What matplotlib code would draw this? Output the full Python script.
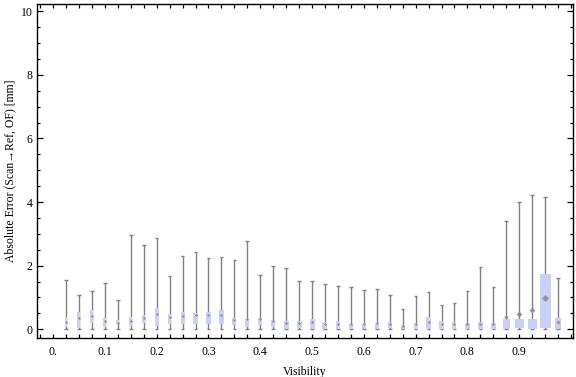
import matplotlib
matplotlib.use("Agg")
import matplotlib.pyplot as plt
import numpy as np
from matplotlib.ticker import MultipleLocator, FixedLocator

# ---- data ----
visibility = [0.025, 0.05, 0.075, 0.1, 0.125, 0.15, 0.175, 0.2, 0.225, 0.25,
              0.275, 0.3, 0.325, 0.35, 0.375, 0.4, 0.425, 0.45, 0.475, 0.5,
              0.525, 0.55, 0.575, 0.6, 0.625, 0.65, 0.675, 0.7, 0.725, 0.75,
              0.775, 0.8, 0.825, 0.85, 0.875, 0.9, 0.925, 0.95, 0.975]
whisker_low = [0.0] * 39
whisker_high = [1.56, 1.07, 1.21, 1.45, 0.92, 2.95, 2.66, 2.87, 1.67, 2.30,
                2.44, 2.24, 2.27, 2.19, 2.79, 1.70, 1.99, 1.93, 1.52, 1.52,
                1.42, 1.36, 1.33, 1.24, 1.27, 1.08, 0.63, 1.05, 1.17, 0.76,
                0.82, 1.20, 1.97, 1.33, 3.39, 4.00, 4.22, 4.16, 1.61]
q1 = [0.08, 0.05, 0.19, 0.08, 0.15, 0.11, 0.19, 0.11, 0.18, 0.18,
      0.18, 0.18, 0.15, 0.12, 0.08, 0.12, 0.08, 0.02, 0.05, 0.02,
      0.02, 0.02, 0.02, 0.02, 0.02, 0.05, 0.01, 0.01, 0.01, 0.01,
      0.01, 0.01, 0.01, 0.01, 0.01, 0.05, 0.01, 0.05, 0.01]
q3 = [0.40, 0.55, 0.61, 0.36, 0.29, 0.40, 0.46, 0.68, 0.48, 0.55,
      0.52, 0.55, 0.61, 0.36, 0.33, 0.36, 0.29, 0.26, 0.26, 0.33,
      0.23, 0.26, 0.17, 0.19, 0.20, 0.23, 0.14, 0.21, 0.37, 0.26,
      0.23, 0.21, 0.23, 0.21, 0.33, 0.33, 0.33, 1.75, 0.36]
means = [0.24, 0.35, 0.42, 0.27, 0.21, 0.25, 0.35, 0.48, 0.38, 0.42,
         0.44, 0.44, 0.45, 0.29, 0.32, 0.32, 0.25, 0.21, 0.20, 0.22,
         0.16, 0.18, 0.15, 0.17, 0.20, 0.18, 0.10, 0.18, 0.23, 0.18,
         0.16, 0.15, 0.16, 0.18, 0.37, 0.49, 0.60, 0.98, 0.24]
# box widths (pixels) as seen in the chart
box_width_px = [2.7, 3, 3, 3, 3, 3, 3.3, 3.7, 3.7, 4,
                4.3, 4.7, 5, 4.3, 4.3, 4.3, 4.3, 5, 5, 5,
                5, 4.3, 3.3, 4, 4, 4.3, 3.7, 3.7, 4.3, 4.3,
                4, 5, 5, 5, 7, 9, 9, 11, 6]

x_major = [0, 0.1, 0.2, 0.3, 0.4, 0.5, 0.6, 0.7, 0.8, 0.9]
x_labels = ["0.", "0.1", "0.2", "0.3", "0.4", "0.5", "0.6", "0.7", "0.8", "0.9"]
y_major = [0, 2, 4, 6, 8, 10]

W, H, DPI = 576, 377, 100
fig = plt.figure(figsize=(W / DPI, H / DPI), dpi=DPI)
plt.rcParams['font.family'] = ['Liberation Serif', 'DejaVu Serif']
L, R, B, T = 36.5, 572.7, 337.5, 4.0
ax = fig.add_axes([L / W, 1 - B / H, (R - L) / W, (B - T) / H])
xmin, xmax = -0.032, 1.0033
ymin, ymax = -0.26, 10.23
ax.set_xlim(xmin, xmax)
ax.set_ylim(ymin, ymax)

px_per_x = (R - L) / (xmax - xmin)
vis = np.array(visibility)
widths = np.array(box_width_px) / px_per_x
cap = 1.8 / px_per_x

grey = '#808080'
boxc = '#c9d0f5'
ax.vlines(vis, whisker_low, whisker_high, color=grey, lw=1.0, zorder=2)
ax.hlines(whisker_high, vis - cap, vis + cap, color=grey, lw=1.0, zorder=2)
ax.hlines(whisker_low, vis - cap, vis + cap, color=grey, lw=1.0, zorder=2)
ax.bar(vis, np.array(q3) - np.array(q1), bottom=q1, width=widths,
       color=boxc, edgecolor='none', zorder=3)
for xv, m, wp in zip(vis, means, box_width_px):
    ms = max(2.2, 0.45 * wp) * 72 / DPI
    ax.plot([xv], [m], marker='D', ms=ms, color='#8c8c8c', mec='none',
            zorder=4, alpha=0.9)

for s in ax.spines.values():
    s.set_linewidth(1.0)
ax.xaxis.set_major_locator(FixedLocator(x_major))
ax.set_xticklabels(x_labels)
ax.xaxis.set_minor_locator(MultipleLocator(0.025))
ax.yaxis.set_major_locator(FixedLocator(y_major))
ax.yaxis.set_minor_locator(MultipleLocator(0.5))
ax.tick_params(which='both', direction='in', top=True, right=True,
               labelsize=8.5, width=0.9, colors='black')
ax.tick_params(axis='x', which='major', length=3.2, pad=6)
ax.tick_params(axis='x', which='minor', length=3.2)
ax.tick_params(axis='y', which='major', length=4.2, pad=3)
ax.tick_params(axis='y', which='minor', length=2.2)

ax.set_xlabel("Visibility", fontsize=8.5, labelpad=6)
ax.set_ylabel("Absolute Error (Scan\u2192Ref, OF) [mm]", fontsize=8.5, labelpad=3)

fig.savefig("out.png", dpi=DPI)
